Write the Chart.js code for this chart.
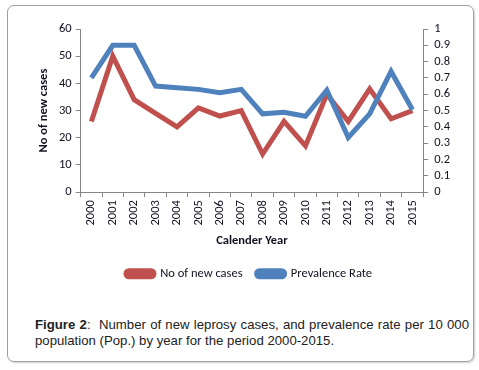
<!DOCTYPE html>
<html>
<head>
<meta charset="utf-8">
<script src="https://cdn.jsdelivr.net/npm/chart.js@4/dist/chart.umd.min.js"></script>
<style>
  body { margin: 0; background: #fff; }
  #frame {
    position: absolute; left: 7px; top: 5px; width: 465px; height: 355px;
    border: 1px solid #a0a0a0; border-radius: 7px; box-shadow: 1px 1px 2px #ccc;
  }
  #wrap { position: absolute; left: 0; top: 0; width: 479px; height: 300px; }
  #caption {
    position: absolute; left: 35px; top: 317px; width: 434px;
    font-family: "Liberation Sans", Arial, sans-serif; font-size: 13.2px;
    line-height: 16px; color: #222; text-align: justify; text-align-last: left;
  }
</style>
</head>
<body>
<div id="frame"></div>
<div id="wrap"><canvas id="myChart"></canvas></div>
<div id="caption"><b>Figure 2</b>:&nbsp; Number of new leprosy cases, and prevalence rate per 10&nbsp;000 population (Pop.) by year for the period 2000-2015.</div>
<script>
const years = ['2000', '2001', '2002', '2003', '2004', '2005', '2006', '2007',
  '2008', '2009', '2010', '2011', '2012', '2013', '2014', '2015'];
const newCases = [26, 50, 34, 29, 24, 31, 28, 30, 14, 26, 17, 36, 26, 38, 27, 30];
const prevalence = [0.70, 0.90, 0.90, 0.65, 0.64, 0.63, 0.61, 0.63,
  0.48, 0.49, 0.465, 0.625, 0.335, 0.48, 0.74, 0.505];

const tickFont = { family: 'Carlito, Lato, sans-serif', size: 12.5 };
const boldFont = { family: 'Carlito, Lato, sans-serif', size: 12.5, weight: 'bold' };
const axisGrey = '#868686';
const textColor = '#111122';

// nudge the legend a bit right, like the original
const legendShift = {
	id: 'legendShift',
	afterLayout(chart) {
		chart.legend.left += 5;
		chart.legend.right += 5;
	}
};

const ctx = document.getElementById('myChart').getContext("2d");

new Chart(ctx, {
	type: 'line',
	data: {
		labels: years,
		datasets: [{
			label: 'No of new cases',
			data: newCases,
			yAxisID: 'y',
			borderColor: '#C0504D',
			backgroundColor: '#C0504D',
			borderWidth: 5,
			pointRadius: 0,
			tension: 0,
			order: 1
		}, {
			label: 'Prevalence Rate',
			data: prevalence,
			yAxisID: 'y1',
			borderColor: '#4F81BD',
			backgroundColor: '#4F81BD',
			borderWidth: 5,
			pointRadius: 0,
			tension: 0,
			order: 0
		}]
	},
	plugins: [legendShift],
	options: {
		responsive: true,
		maintainAspectRatio: false,
		animation: false,
		layout: {
			padding: { left: 32, right: 23, top: 29, bottom: 10 }
		},
		plugins: {
			legend: {
				position: 'bottom',
				labels: {
					color: textColor,
					font: tickFont,
					boxWidth: 28,
					boxHeight: 6,
					useBorderRadius: true,
					borderRadius: 3,
					padding: 14,
					sort: (a, b) => a.datasetIndex - b.datasetIndex
				}
			},
			tooltip: { enabled: false }
		},
		scales: {
			x: {
				offset: true,
				grid: {
					drawOnChartArea: false,
					color: axisGrey,
					tickLength: 5,
					offset: true
				},
				border: { color: axisGrey },
				ticks: {
					color: textColor,
					font: tickFont,
					minRotation: 90,
					maxRotation: 90,
					autoSkip: false
				},
				title: {
					display: true,
					text: 'Calender Year',
					color: textColor,
					font: boldFont,
					padding: { top: 5, bottom: 5 }
				}
			},
			y: {
				position: 'left',
				min: 0,
				max: 60,
				grid: {
					drawOnChartArea: false,
					color: axisGrey,
					tickLength: 5
				},
				border: { color: axisGrey },
				ticks: { stepSize: 10, color: textColor, font: tickFont, padding: 4 },
				title: {
					display: true,
					text: 'No of new cases',
					color: textColor,
					font: boldFont
				}
			},
			y1: {
				position: 'right',
				min: 0,
				max: 1,
				grid: {
					drawOnChartArea: false,
					color: axisGrey,
					tickLength: 5
				},
				border: { color: axisGrey },
				ticks: {
					stepSize: 0.1,
					autoSkip: false,
					color: textColor,
					font: tickFont,
					padding: 6,
					callback: (v) => (v === 0 || v === 1) ? String(v) : v.toFixed(1)
				}
			}
		}
	}
});
</script>
</body>
</html>
